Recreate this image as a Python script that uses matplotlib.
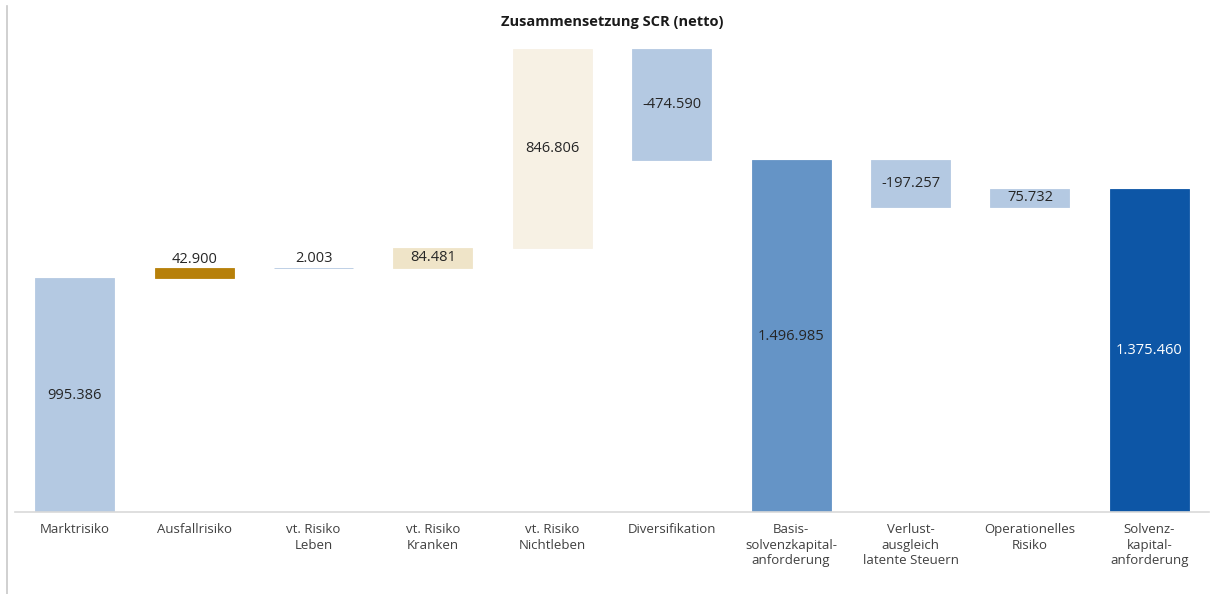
import matplotlib
matplotlib.use("Agg")
import matplotlib.pyplot as plt
from matplotlib.lines import Line2D

categories = ["Marktrisiko", "Ausfallrisiko", "vt. Risiko\nLeben", "vt. Risiko\nKranken",
              "vt. Risiko\nNichtleben", "Diversifikation", "Basis-\nsolvenzkapital-\nanforderung",
              "Verlust-\nausgleich\nlatente Steuern", "Operationelles\nRisiko",
              "Solvenz-\nkapital-\nanforderung"]
values = [995386, 42900, 2003, 84481, 846806, -474590, 1496985, -197257, 75732, 1375460]
is_total = [False, False, False, False, False, False, True, False, False, True]
colors = ["#b4c9e2", "#b7800a", "#b4c9e2", "#efe4c8", "#f7f1e4", "#b4c9e2",
          "#6594c6", "#b4c9e2", "#b4c9e2", "#0d56a6"]
label_colors = ["#262626"] * 9 + ["#ffffff"]

def fmt(v):
    s = f"{abs(v):,}".replace(",", ".")
    return ("-" if v < 0 else "") + s

fig = plt.figure(figsize=(12.12, 5.94), dpi=100)
ax = fig.add_axes([15/1212, 82/594, 1194/1212, 470/594])

running = 0
bottoms, heights = [], []
for v, t in zip(values, is_total):
    if t:
        bottoms.append(0); heights.append(v); running = v
    else:
        if v >= 0:
            bottoms.append(running); heights.append(v)
        else:
            bottoms.append(running + v); heights.append(-v)
        running += v

x = list(range(len(values)))
ax.bar(x, heights, bottom=bottoms, width=0.66, color=colors, edgecolor=colors, linewidth=0.6)

for xi, b, h, v, lc in zip(x, bottoms, heights, values, label_colors):
    if h < 60000:
        ax.text(xi, b + h + 6000, fmt(v), ha="center", va="bottom", fontsize=10.5,
                color=lc, family="Open Sans")
    else:
        ax.text(xi, b + h / 2, fmt(v), ha="center", va="center", fontsize=10.5,
                color=lc, family="Open Sans")

ax.set_xlim(-0.5, len(values) - 0.5)
ax.set_ylim(0, 2000000)
ax.set_yticks([])
ax.set_xticks(x)
ax.set_xticklabels(categories, fontsize=9.5, color="#404040", family="Open Sans", linespacing=1.25)
ax.tick_params(axis="x", length=0, pad=8)
for s in ["top", "left", "right"]:
    ax.spines[s].set_visible(False)
ax.spines["bottom"].set_color("#d9d9d9")
ax.spines["bottom"].set_linewidth(1.2)

fig.text(612/1212, 1 - 22/594, "Zusammensetzung SCR (netto)", ha="center", va="center",
         fontsize=10.5, fontweight="bold", color="#1a1a1a", family="Open Sans")

fig.add_artist(Line2D([7/1212, 7/1212], [0, 1 - 6/594], transform=fig.transFigure,
                      color="#c8c8c8", linewidth=1.2))

fig.savefig("out.png", dpi=100)
